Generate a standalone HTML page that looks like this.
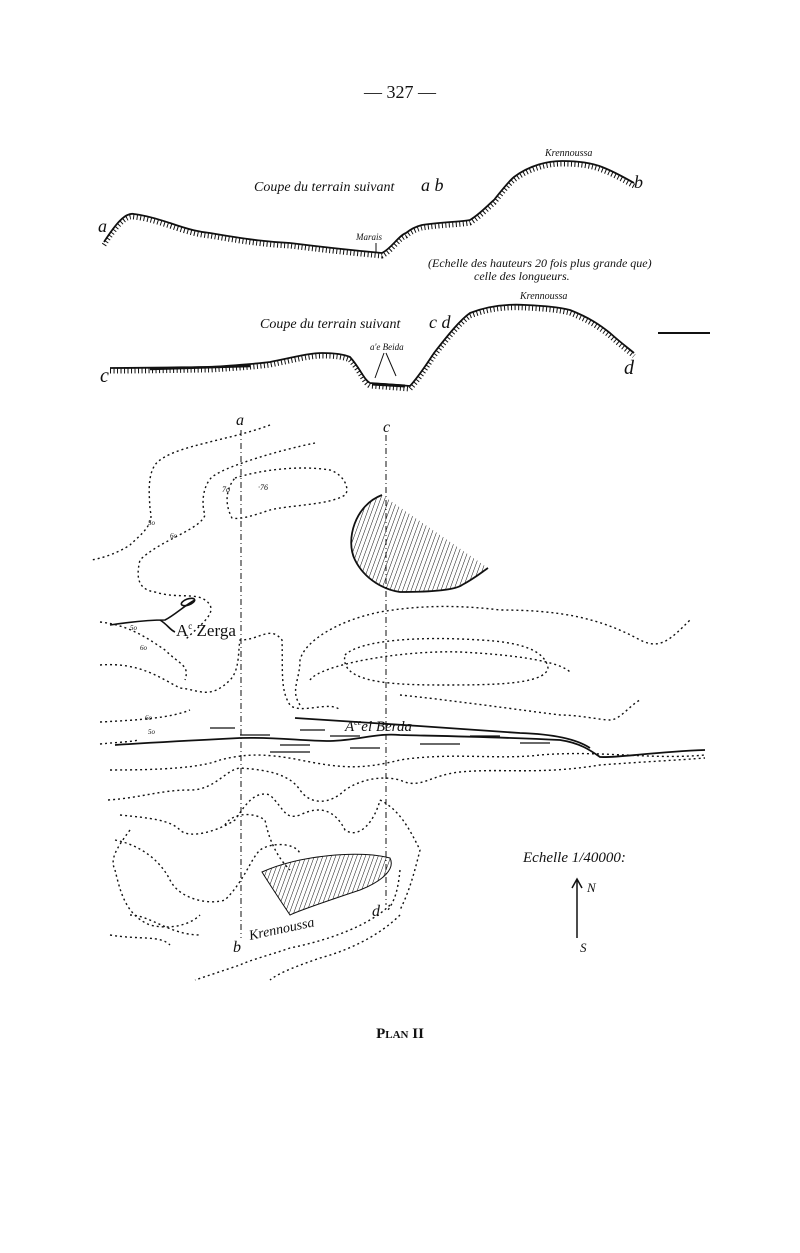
<!DOCTYPE html>
<html><head><meta charset="utf-8"><style>
html,body{margin:0;padding:0;background:#fff;}
svg{display:block;}
text{font-family:"Liberation Serif",serif;fill:#111;}
.h{font-style:italic;}
</style></head><body>
<svg width="800" height="1253" viewBox="0 0 800 1253" xmlns="http://www.w3.org/2000/svg">
<defs>
<pattern id="hat" width="4" height="6" patternUnits="userSpaceOnUse" patternTransform="rotate(20)">
<line x1="0" y1="0" x2="0" y2="6" stroke="#111" stroke-width="1"/>
</pattern>
</defs>
<text x="400" y="98" font-size="18" text-anchor="middle">— 327 —</text>

<!-- Profile ab -->
<g fill="none" stroke="#111">
<path d="M104,242 C115,225 125,212 134,214 C150,216 160,220 170,223 C190,230 200,232 210,233 C250,240 270,242 290,243 C330,248 360,251 382,253 C392,248 398,236 406,233 C412,228 418,226 422,225 C440,222 460,222 470,220 C480,214 488,205 494,200 C502,190 508,182 514,177 C530,165 548,161 562,161 C580,161 592,163 602,167 C615,172 625,178 634,183" stroke-width="1.8"/>
<path d="M104,242 C115,225 125,212 134,214 C150,216 160,220 170,223 C190,230 200,232 210,233 C250,240 270,242 290,243 C330,248 360,251 382,253 C392,248 398,236 406,233 C412,228 418,226 422,225 C440,222 460,222 470,220 C480,214 488,205 494,200 C502,190 508,182 514,177 C530,165 548,161 562,161 C580,161 592,163 602,167 C615,172 625,178 634,183" stroke-width="5" stroke-dasharray="1 2.5" transform="translate(0,3)"/>
</g>
<text x="254" y="191" font-size="14" class="h">Coupe du terrain suivant</text>
<text x="421" y="191" font-size="18" class="h">a b</text>
<text x="98" y="232" font-size="18" class="h">a</text>
<text x="634" y="188" font-size="18" class="h">b</text>
<text x="545" y="156" font-size="10" class="h">Krennoussa</text>
<text x="356" y="240" font-size="9" class="h">Marais</text>
<line x1="376" y1="243" x2="376" y2="252" stroke="#111"/>
<text x="428" y="267" font-size="12" class="h">(Echelle des hauteurs 20 fois plus grande que)</text>
<text x="474" y="280" font-size="12" class="h">celle des longueurs.</text>

<!-- Profile cd -->
<g fill="none" stroke="#111">
<path d="M110,368 C160,368 190,367 210,367 C240,365 255,364 270,362 C295,357 310,353 322,353 C335,353 343,354 350,357 C360,368 364,380 370,383 L410,386 C420,375 428,362 434,353 C448,335 460,320 470,313 C490,305 510,304 526,305 C545,306 558,307 570,310 C590,318 600,325 610,333 C620,342 628,348 634,353" stroke-width="1.8"/>
<path d="M110,368 C160,368 190,367 210,367 C240,365 255,364 270,362 C295,357 310,353 322,353 C335,353 343,354 350,357 C360,368 364,380 370,383 L410,386 C420,375 428,362 434,353 C448,335 460,320 470,313 C490,305 510,304 526,305 C545,306 558,307 570,310 C590,318 600,325 610,333 C620,342 628,348 634,353" stroke-width="5" stroke-dasharray="1 2.5" transform="translate(0,3)"/>
<path d="M150,369 L250,366" stroke-width="2.5"/>
<path d="M372,384 L405,386" stroke-width="3"/>
<line x1="658" y1="333" x2="710" y2="333" stroke-width="2"/>
<path d="M384,353 L375,378 M386,353 L396,376" stroke-width="1"/>
</g>
<text x="260" y="328" font-size="14" class="h">Coupe du terrain suivant</text>
<text x="429" y="328" font-size="18" class="h">c d</text>
<text x="100" y="382" font-size="20" class="h">c</text>
<text x="624" y="374" font-size="20" class="h">d</text>
<text x="520" y="299" font-size="10" class="h">Krennoussa</text>
<text x="370" y="350" font-size="9" class="h">a'e Beida</text>

<!-- Map -->
<g fill="none" stroke="#111" stroke-width="1.4" stroke-dasharray="2 3">
<path d="M270,425 C230,440 180,445 160,460 C145,470 150,500 150,510 C155,525 140,535 130,545 C115,555 95,560 90,560"/>
<path d="M315,443 C280,450 230,465 215,475 C205,480 200,500 205,515 C200,530 160,540 140,560 C135,580 140,590 155,592 C180,600 200,590 210,605 C215,615 200,625 185,640"/>
<path d="M235,478 C260,470 300,465 330,470 C345,475 350,490 345,495 C330,505 290,505 270,510 C255,515 240,520 232,518 C225,505 225,490 235,478 Z"/>
<path d="M100,622 C130,625 150,640 165,650 C180,665 190,665 185,680"/>
<path d="M100,665 C140,662 160,678 180,688 C200,690 210,700 230,680 C240,670 238,650 240,640 C260,640 270,625 282,640 C283,670 280,690 290,705 C300,715 330,700 340,710"/>
<path d="M300,705 C290,690 300,680 300,660 C305,640 340,620 380,612 C420,605 460,605 500,610 C560,610 600,618 640,640 C660,650 670,640 690,620"/>
<path d="M345,655 C360,640 420,636 480,640 C520,642 545,650 548,668 C545,685 490,685 440,685 C380,685 340,680 345,655 Z"/>
<path d="M310,680 C320,665 400,650 460,652 C520,655 560,662 570,672"/>
<path d="M400,695 C450,700 520,710 560,715 C580,715 600,720 610,720 C620,720 630,705 640,700"/>
<path d="M100,722 C140,720 170,718 190,710"/>
<path d="M100,744 C120,742 130,742 138,740"/>
<path d="M110,770 C160,770 200,768 220,760 C240,755 260,752 300,760 C340,768 360,770 400,760 C450,752 500,760 540,755 C600,750 650,760 705,755"/>
<path d="M108,800 C140,798 160,790 190,790 C215,790 225,770 240,768 C270,770 290,775 300,790 C310,805 330,805 345,790 C360,780 380,775 400,780 C420,790 430,775 460,772 C500,768 540,775 600,765 C640,762 680,760 705,758"/>
<path d="M120,815 C150,818 170,820 180,830 C190,840 220,830 235,820 C245,805 255,790 270,795 C285,810 285,820 300,815 C320,805 335,810 345,830 C360,840 375,820 380,800"/>
<path d="M115,840 C140,845 160,860 170,880 C180,900 210,905 225,900 C245,880 250,860 260,850 C275,840 300,845 300,855"/>
<path d="M115,870 C120,890 125,915 150,925 C170,930 190,925 200,915"/>
<path d="M130,915 C150,915 170,935 200,935"/>
<path d="M225,825 C230,815 250,810 265,820 C270,845 280,860 290,870"/>
<path d="M380,800 C400,810 410,830 420,850 C415,870 410,890 400,910"/>
<path d="M400,870 C398,890 395,900 388,910"/>
<path d="M390,905 C370,925 330,940 290,948 C270,955 250,960 240,965 C225,970 210,975 195,980"/>
<path d="M400,915 C380,935 350,950 320,958 C300,965 280,972 270,980"/>
<path d="M130,830 C115,850 110,860 115,870"/>
<path d="M110,935 C140,940 160,935 170,945"/>
</g>
<!-- section lines -->
<g stroke="#111" stroke-width="1" stroke-dasharray="6 3 1 3">
<line x1="241" y1="430" x2="241" y2="938"/>
<line x1="386" y1="435" x2="386" y2="905"/>
</g>
<text x="236" y="425" font-size="16" class="h">a</text>
<text x="383" y="432" font-size="16" class="h">c</text>
<text x="233" y="952" font-size="16" class="h">b</text>
<text x="372" y="916" font-size="16" class="h">d</text>

<!-- hatched half moon -->
<path d="M382,495 C355,505 345,540 355,560 C365,580 385,590 400,592 C430,592 455,590 462,585 C475,578 482,572 488,568" fill="url(#hat)" stroke="#111" stroke-width="1.8"/>
<text x="222" y="492" font-size="8" class="h">7o</text>
<text x="258" y="490" font-size="8" class="h">·76</text>
<text x="148" y="525" font-size="7" class="h">5o</text>
<text x="170" y="538" font-size="7" class="h">6o</text>
<text x="130" y="630" font-size="7" class="h">5o</text>
<text x="140" y="650" font-size="7" class="h">6o</text>
<text x="145" y="720" font-size="7" class="h">6o</text>
<text x="148" y="734" font-size="7" class="h">5o</text>

<!-- Zerga -->
<g fill="none" stroke="#111" stroke-width="1.6">
<path d="M110,625 C130,622 150,620 165,620 C175,615 185,605 195,600"/>
<ellipse cx="188" cy="602" rx="7" ry="3" transform="rotate(-20 188 602)"/>
<path d="M160,620 C168,625 170,630 175,632"/>
</g>
<text x="176" y="636" font-size="17">A<tspan font-size="9" dy="-7">c</tspan><tspan dy="7"> Zerga</tspan></text>

<!-- River Berda -->
<g fill="none" stroke="#111" stroke-width="1.8">
<path d="M115,745 C160,742 200,740 240,738 C280,737 300,741 330,741 C360,740 375,733 400,735 C440,736 500,737 560,740 C580,743 590,750 600,757 C620,758 650,752 705,750"/>
<path d="M295,718 C360,722 450,728 520,733 C550,734 575,738 590,748"/>
</g>
<g stroke="#111" stroke-width="1.2">
<line x1="240" y1="735" x2="270" y2="735"/><line x1="280" y1="745" x2="310" y2="745"/>
<line x1="330" y1="736" x2="360" y2="736"/><line x1="300" y1="730" x2="325" y2="730"/>
<line x1="420" y1="744" x2="460" y2="744"/><line x1="470" y1="736" x2="500" y2="736"/>
<line x1="520" y1="743" x2="550" y2="743"/><line x1="210" y1="728" x2="235" y2="728"/>
<line x1="270" y1="752" x2="310" y2="752"/><line x1="350" y1="748" x2="380" y2="748"/>
</g>
<text x="345" y="731" font-size="15" class="h">A<tspan font-size="8" dy="-6">ce</tspan><tspan dy="6">el Berda</tspan></text>

<!-- Krennoussa blob -->
<path d="M262,872 C300,855 360,850 390,858 C395,868 385,880 360,890 C330,900 300,910 290,915 C280,900 270,885 262,872 Z" fill="url(#hat)" stroke="#111" stroke-width="1"/>
<text x="250" y="940" font-size="14" class="h" transform="rotate(-12 250 940)">Krennoussa</text>

<!-- Scale & arrow -->
<text x="523" y="862" font-size="15" class="h">Echelle 1/40000:</text>
<line x1="577" y1="880" x2="577" y2="938" stroke="#111" stroke-width="1.5"/>
<path d="M572,888 L577,879 L582,888" fill="none" stroke="#111" stroke-width="1.5"/>
<text x="587" y="892" font-size="13" class="h">N</text>
<text x="580" y="952" font-size="13" class="h">S</text>

<text x="400" y="1038" font-size="15" text-anchor="middle" font-weight="bold">P<tspan font-size="11">LAN</tspan> II</text>
</svg>
</body></html>
